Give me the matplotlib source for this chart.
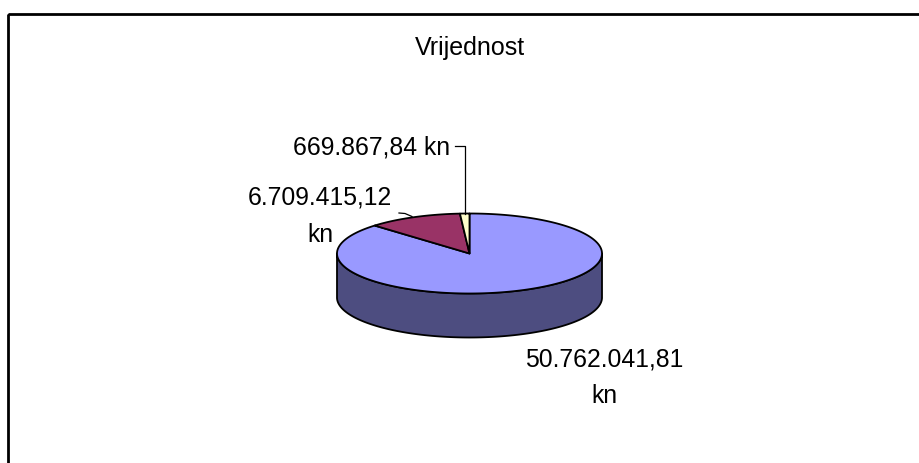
import numpy as np
import matplotlib
matplotlib.use("Agg")
import matplotlib.pyplot as plt
from matplotlib.patches import Polygon, Rectangle

# ---- data ----
title = "Vrijednost"
values = [50762041.81, 6709415.12, 669867.84]
labels = ["50.762.041,81\nkn", "6.709.415,12\nkn", "669.867,84 kn"]
top_colors = ["#9999FF", "#993366", "#FFFFCC"]
side_colors = ["#4D4D80", "#4D1A33", "#808066"]

W, H = 919, 463
fig = plt.figure(figsize=(W / 100, H / 100), dpi=100)
ax = fig.add_axes([0, 0, 1, 1])
ax.set_xlim(0, W)
ax.set_ylim(H, 0)
ax.axis("off")

FONT = "Liberation Sans"
FS = 17.8

# chart frame
ax.add_patch(Rectangle((8, 14), 2000, 2000, fill=False, lw=2, ec="black", zorder=1))

# title
ax.text(470, 55, title, ha="center", va="baseline", fontsize=18, family=FONT)

# 3D pie geometry
cx, cy, rx, ry, depth = 469.5, 253.5, 132.5, 40.0, 44.0


def pt(theta_deg, dy=0.0):
    t = np.deg2rad(theta_deg)
    return cx + rx * np.sin(t), cy - ry * np.cos(t) + dy


total = sum(values)
angles = np.concatenate([[0], np.cumsum(values) / total * 360.0])

# side walls (front half: 90..270 degrees, clockwise from 12 o'clock)
for i in range(len(values)):
    a0, a1 = max(angles[i], 90), min(angles[i + 1], 270)
    if a1 <= a0:
        continue
    th = np.linspace(a0, a1, 200)
    top = [pt(t) for t in th]
    bot = [pt(t, depth) for t in th[::-1]]
    ax.add_patch(Polygon(top + bot, closed=True, fc=side_colors[i], ec="black",
                         lw=1.3, zorder=2, joinstyle="round"))

# top face
for i in range(len(values)):
    th = np.linspace(angles[i], angles[i + 1], max(10, int((angles[i + 1] - angles[i]) * 2)))
    poly = [(cx, cy)] + [pt(t) for t in th]
    ax.add_patch(Polygon(poly, closed=True, fc=top_colors[i], ec="black",
                         lw=1.3, zorder=3, joinstyle="round"))

# labels (each line placed on its own baseline)
label_pos = [(604, 366), (320, 205), (372, 154)]
line_gap = 37
for lab, (x, y) in zip(labels, label_pos):
    for k, line in enumerate(lab.split("\n")):
        ax.text(x, y + k * line_gap, line, ha="center", va="baseline",
                fontsize=FS, family=FONT, zorder=4)

# leader lines
mid_small = (angles[2] + angles[3]) / 2
lx, ly = pt(mid_small)
ax.plot([455, lx, lx], [146, 146, ly], color="black", lw=0.9, zorder=4)
ax.plot([399, 405, 412], [213, 213.5, 216.5], color="black", lw=0.9, zorder=4)

fig.savefig("out.png", dpi=100)
